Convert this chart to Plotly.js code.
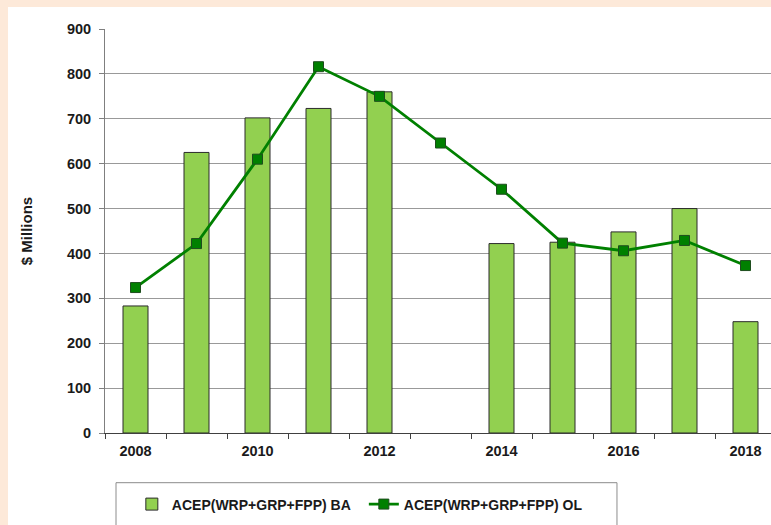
<!DOCTYPE html>
<html>
<head>
<meta charset="utf-8">
<script src="https://cdn.plot.ly/plotly-3.0.1.min.js"></script>
<style>
html,body{margin:0;padding:0;background:#fde9d9;overflow:hidden;width:771px;height:525px;}
#chart{position:absolute;left:8px;top:7px;width:772px;height:520px;}
</style>
</head>
<body>
<div id="chart"></div>
<script>
const years = [2008, 2009, 2010, 2011, 2012, 2013, 2014, 2015, 2016, 2017, 2018];
const baValues = [283, 625, 702, 723, 760, null, 422, 425, 448, 500, 248];
const olValues = [324, 422, 610, 816, 750, 646, 543, 423, 406, 429, 373];
const tickYears = [2008, 2010, 2012, 2014, 2016, 2018];
const seriesNames = ['ACEP(WRP+GRP+FPP) BA', 'ACEP(WRP+GRP+FPP) OL'];
const yTitle = '$ Millions';

const fontFamily = '"Liberation Sans", Arial, sans-serif';
const tickFont = {family: fontFamily, size: 14.5, color: '#1a1a1a', weight: 'bold'};

const traces = [
  {
    type: 'bar',
    x: years,
    y: baValues,
    name: seriesNames[0],
    width: 0.41,
    marker: {color: '#92d050', line: {color: '#2b2b2b', width: 1}},
    hoverinfo: 'x+y'
  },
  {
    type: 'scatter',
    mode: 'lines+markers',
    x: years,
    y: olValues,
    name: seriesNames[1],
    line: {color: '#008000', width: 2.8},
    marker: {symbol: 'square', size: 10, color: '#008000', line: {color: '#1e4d1e', width: 1}},
    hoverinfo: 'x+y'
  }
];

const layout = {
  width: 772,
  height: 520,
  margin: {l: 97, r: 4, t: 22, b: 94},
  paper_bgcolor: '#ffffff',
  plot_bgcolor: '#ffffff',
  font: {family: fontFamily, size: 14, color: '#1a1a1a', weight: 'bold'},
  showlegend: true,
  xaxis: {
    type: 'linear',
    range: [2007.5, 2018.5],
    tickvals: tickYears,
    ticktext: tickYears.map(String),
    ticks: '',
    showgrid: false,
    zeroline: false,
    showline: true,
    linecolor: '#404040',
    linewidth: 1,
    ticklabelstandoff: 5,
    tickfont: tickFont,
    minor: {tick0: 2007.5, dtick: 1, ticks: 'outside', ticklen: 5, tickcolor: '#404040', showgrid: false},
    fixedrange: true
  },
  yaxis: {
    range: [0, 900],
    tickvals: [0, 100, 200, 300, 400, 500, 600, 700, 800, 900],
    ticks: 'outside',
    ticklen: 5,
    tickcolor: '#7f7f7f',
    showgrid: true,
    gridcolor: '#999999',
    gridwidth: 1,
    zeroline: false,
    showline: true,
    linecolor: '#7f7f7f',
    linewidth: 1,
    ticklabelstandoff: 5,
    tickfont: tickFont,
    title: {text: yTitle, standoff: 30, font: {family: fontFamily, size: 15, color: '#1a1a1a', weight: 'bold'}},
    automargin: false,
    fixedrange: true
  },
  legend: {
    orientation: 'h',
    x: 0.04,
    xanchor: 'left',
    y: -0.177,
    yanchor: 'middle',
    bgcolor: 'rgba(0,0,0,0)',
    borderwidth: 0,
    entrywidth: 187,
    font: {family: fontFamily, size: 14, color: '#1a1a1a', weight: 'bold'}
  },
  shapes: [
    {type: 'rect', xref: 'paper', yref: 'paper', x0: 0.0164, x1: 0.763, y0: -0.123, y1: -0.26,
     line: {color: '#8c8c8c', width: 1}, fillcolor: 'rgba(0,0,0,0)', layer: 'below'}
  ],
  bargap: 0.59
};

Plotly.newPlot('chart', traces, layout, {displayModeBar: false, staticPlot: true});
</script>
</body>
</html>
